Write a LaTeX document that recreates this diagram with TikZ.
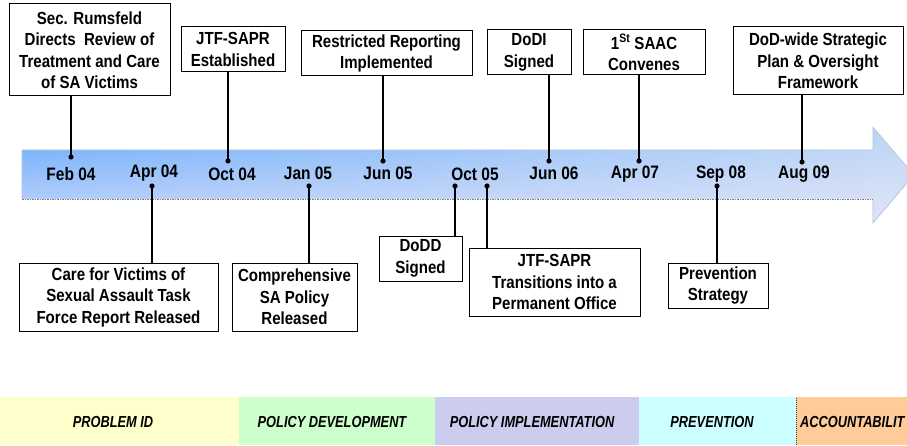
\documentclass[tikz,border=0pt]{standalone}
\usepackage{fontspec}
\newfontfamily\narrowsans{Liberation Sans}[FakeStretch=0.86]
\newfontfamily\phasesans{Liberation Sans}[FakeStretch=0.8]
\usetikzlibrary{fadings}
\definecolor{bandleft}{HTML}{66AAFD}
\definecolor{bandright}{HTML}{BCD6F6}
\definecolor{bandfade}{HTML}{F4ECF8}
\definecolor{bandedge}{HTML}{B8C8D8}
\definecolor{probfill}{HTML}{FFFFCC}
\definecolor{devfill}{HTML}{CCFFCC}
\definecolor{implfill}{HTML}{CCCCEE}
\definecolor{prevfill}{HTML}{CCFFFF}
\definecolor{accfill}{HTML}{FFCC99}
\tikzset{
	eventbox/.style={draw, line width=1pt, fill=white, align=center, inner sep=0pt, font=\narrowsans\bfseries\fontsize{17.5}{21.5}\selectfont},
	datelabel/.style={inner sep=0pt, font=\narrowsans\bfseries\fontsize{18}{21}\selectfont},
	phaselabel/.style={inner sep=0pt, font=\phasesans\bfseries\itshape\fontsize{16}{19}\selectfont},
	stem/.style={line width=2.6pt},
}
\begin{document}
\begin{tikzpicture}[x=1pt,y=1pt]
		\useasboundingbox (0,0) rectangle (907,445);
		%band
		\shade[left color=bandleft, right color=bandright] (22,246) -- (22,295) -- (873,295) -- (873,318) -- (914,270) -- (873,222) -- (873,246) -- cycle;
		\fill[bandfade, path fading=north, fill opacity=.7] (22,246) -- (22,295) -- (873,295) -- (873,318) -- (914,270) -- (873,222) -- (873,246) -- cycle;
		\draw[bandedge, line width=.6pt] (22,246) -- (22,295) -- (873,295) -- (873,318) -- (914,270) -- (873,222) -- (873,246);
		\draw[gray, dashed, line width=.9pt, dash pattern=on 1.5pt off 1pt] (22,246) -- (873,246);
		%dates
		\node[datelabel] (feb04) at (71,271) {Feb 04};
		\node[datelabel] (apr04) at (154,272) {Apr 04};
		\node[datelabel] (oct04) at (232,271) {Oct 04};
		\node[datelabel] (jan05) at (308,272) {Jan 05};
		\node[datelabel] (jun05) at (388,272) {Jun 05};
		\node[datelabel] (oct05) at (475,271) {Oct 05};
		\node[datelabel] (jun06) at (554,272) {Jun 06};
		\node[datelabel] (apr07) at (635,271) {Apr 07};
		\node[datelabel] (sep08) at (721,271) {Sep 08};
		\node[datelabel] (aug09) at (804,271) {Aug 09};
		%upper events
		\node[eventbox, minimum width=161pt, minimum height=92pt] (rumsfeld) at (89.5,395) {Sec. Rumsfeld\\Directs~ Review of\\Treatment and Care\\of SA Victims};
		\node[eventbox, minimum width=104pt, minimum height=45pt] (jtfest) at (233,395.5) {JTF-SAPR\\Established};
		\node[eventbox, minimum width=171pt, minimum height=45pt] (restricted) at (386.5,391.5) {Restricted Reporting\\Implemented};
		\node[eventbox, minimum width=84pt, minimum height=45pt] (dodi) at (529,392.5) {DoDI\\Signed};
		\node[eventbox, minimum width=122pt, minimum height=45pt] (saac) at (644,392.5) {1\textsuperscript{St} SAAC\\Convenes};
		\node[eventbox, minimum width=170pt, minimum height=68pt] (stratplan) at (818,384) {DoD-wide Strategic\\Plan \& Oversight\\Framework};
		%
		\coordinate (tfeb04) at (71,288);
		\coordinate (toct04) at (228,284);
		\coordinate (tjun05) at (383,284);
		\coordinate (tjun06) at (549,284);
		\coordinate (tapr07) at (639,284);
		\coordinate (taug09) at (802,283);
		\draw[stem] (tfeb04) -- (tfeb04 |- rumsfeld.south);
		\draw[stem] (toct04) -- (toct04 |- jtfest.south);
		\draw[stem] (tjun05) -- (tjun05 |- restricted.south);
		\draw[stem] (tjun06) -- (tjun06 |- dodi.south);
		\draw[stem] (tapr07) -- (tapr07 |- saac.south);
		\draw[stem] (taug09) -- (taug09 |- stratplan.south);
		\fill (tfeb04) circle (2.6) (toct04) circle (2.6) (tjun05) circle (2.6) (tjun06) circle (2.6) (tapr07) circle (2.6) (taug09) circle (2.6);
		%lower events
		\node[eventbox, minimum width=199pt, minimum height=68pt] (careforce) at (118.5,148) {Care for Victims of\\Sexual Assault Task\\Force Report Released};
		\node[eventbox, minimum width=125pt, minimum height=68pt] (sapolicy) at (294.5,148) {Comprehensive\\SA Policy\\Released};
		\node[eventbox, minimum width=83pt, minimum height=45pt] (dodd) at (420.5,186.5) {DoDD\\Signed};
		\node[eventbox, minimum width=171pt, minimum height=68pt] (jtfperm) at (554.5,163) {JTF-SAPR\\Transitions into a\\Permanent Office};
		\node[eventbox, minimum width=100pt, minimum height=45pt] (prevstrat) at (718,159.5) {Prevention\\Strategy};
		%
		\coordinate (bapr04) at (152,259);
		\coordinate (bjan05) at (309,259);
		\coordinate (boct05a) at (455,259);
		\coordinate (boct05b) at (487,259);
		\coordinate (bsep08) at (717,259);
		\draw[stem] (bapr04) -- (bapr04 |- careforce.north);
		\draw[stem] (bjan05) -- (bjan05 |- sapolicy.north);
		\draw[stem] (boct05a) -- (boct05a |- dodd.north);
		\draw[stem] (boct05b) -- (boct05b |- jtfperm.north);
		\draw[stem] (bsep08) -- (bsep08 |- prevstrat.north);
		\fill (bapr04) circle (2.6) (bjan05) circle (2.6) (boct05a) circle (2.6) (boct05b) circle (2.6) (bsep08) circle (2.6);
		%phases
		\fill[probfill] (0,0) rectangle (239,48);
		\fill[devfill] (239,0) rectangle (435,48);
		\fill[implfill] (435,0) rectangle (639,48);
		\fill[prevfill] (639,0) rectangle (796,48);
		\fill[accfill] (796,0) rectangle (907,48);
		\draw[darkgray, dashed, line width=.5pt, dash pattern=on 1pt off 1pt] (796,0) -- (796,48);
		\node[phaselabel] (probid) at (113,23) {PROBLEM ID};
		\node[phaselabel] (policydev) at (332,23) {POLICY DEVELOPMENT};
		\node[phaselabel] (policyimpl) at (532,23) {POLICY IMPLEMENTATION};
		\node[phaselabel] (prevention) at (712,23) {PREVENTION};
		\node[phaselabel, anchor=west] (accountability) at (800,23) {ACCOUNTABILIT};
	\end{tikzpicture}
\end{document}
